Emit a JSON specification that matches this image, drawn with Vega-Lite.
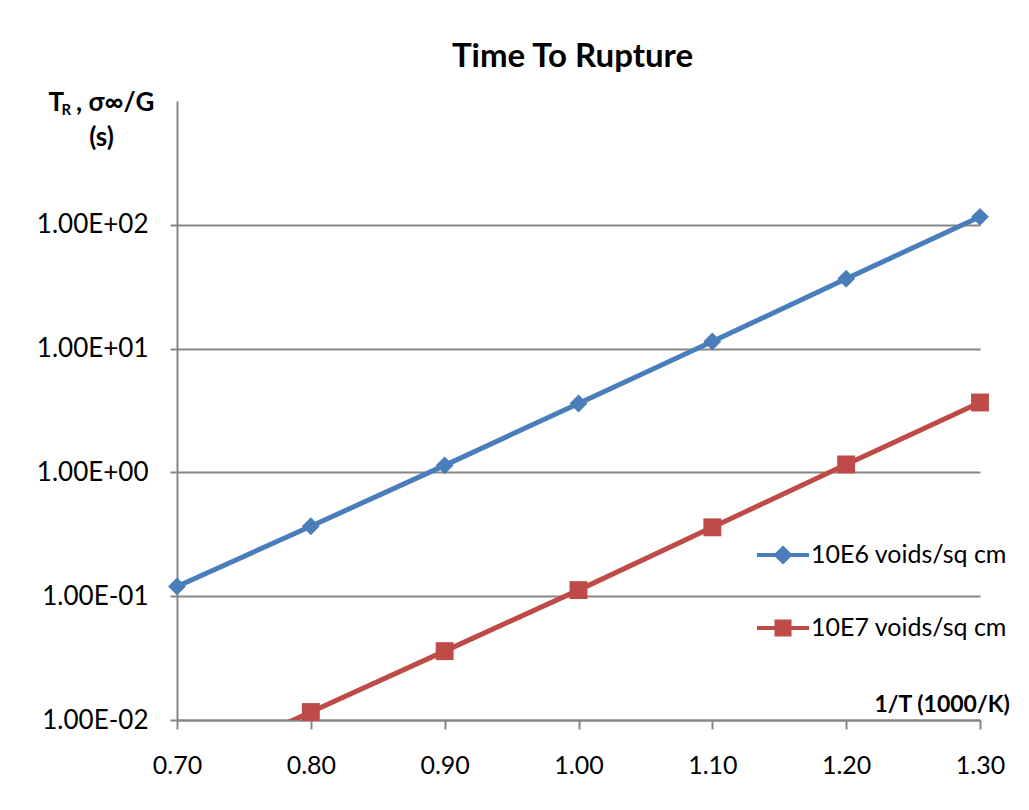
{
  "$schema": "https://vega.github.io/schema/vega-lite/v6.json",
  "autosize": "none",
  "width": 803,
  "height": 619,
  "padding": {"left": 177, "top": 101, "right": 49, "bottom": 90},
  "background": "white",
  "config": {
    "font": "Lato",
    "view": {"stroke": null},
    "axis": {"labelFont": "Lato", "titleFont": "Lato", "labelColor": "black", "titleColor": "black"}
  },
  "title": {
    "text": "Time To Rupture",
    "font": "Lato",
    "fontSize": 33,
    "fontWeight": "bold",
    "color": "black",
    "anchor": "middle",
    "frame": "group",
    "dx": -6,
    "offset": 15
  },
  "data": {
    "values": [
      {"x": 0.7, "y": 0.12, "series": "10E6 voids/sq cm"},
      {"x": 0.8, "y": 0.367, "series": "10E6 voids/sq cm"},
      {"x": 0.9, "y": 1.14, "series": "10E6 voids/sq cm"},
      {"x": 1.0, "y": 3.6, "series": "10E6 voids/sq cm"},
      {"x": 1.1, "y": 11.4, "series": "10E6 voids/sq cm"},
      {"x": 1.2, "y": 36.7, "series": "10E6 voids/sq cm"},
      {"x": 1.3, "y": 116, "series": "10E6 voids/sq cm"},
      {"x": 0.7, "y": 0.0037, "series": "10E7 voids/sq cm"},
      {"x": 0.8, "y": 0.0116, "series": "10E7 voids/sq cm"},
      {"x": 0.9, "y": 0.036, "series": "10E7 voids/sq cm"},
      {"x": 1.0, "y": 0.112, "series": "10E7 voids/sq cm"},
      {"x": 1.1, "y": 0.36, "series": "10E7 voids/sq cm"},
      {"x": 1.2, "y": 1.16, "series": "10E7 voids/sq cm"},
      {"x": 1.3, "y": 3.67, "series": "10E7 voids/sq cm"}
    ]
  },
  "layer": [
    {
      "mark": {"type": "line", "strokeWidth": 5, "clip": true},
      "encoding": {
        "x": {
          "field": "x", "type": "quantitative",
          "scale": {"domain": [0.7, 1.3], "nice": false, "zero": false},
          "axis": {
            "values": [0.7, 0.8, 0.9, 1.0, 1.1, 1.2, 1.3],
            "format": ".2f",
            "grid": false,
            "domainColor": "#868686", "domainWidth": 2,
            "tickColor": "#868686", "tickWidth": 2, "tickSize": 9,
            "labelFontSize": 25, "labelPadding": 24, "labelFlush": false,
            "title": "1/T (1000/K)",
            "titleFontSize": 23, "titleFontWeight": "bold",
            "titleAlign": "left", "titleBaseline": "alphabetic",
            "titleX": 697, "titleY": -9, "titleAngle": 0
          }
        },
        "y": {
          "field": "y", "type": "quantitative",
          "scale": {"type": "log", "domain": [0.01, 1000], "nice": false},
          "axis": {
            "values": [0.01, 0.1, 1, 10, 100],
            "labelExpr": "'1.00E' + (log(datum.value)/LN10 > -0.5 ? '+' : '-') + '0' + abs(round(log(datum.value)/LN10))",
            "grid": true, "gridColor": "#868686", "gridWidth": 2,
            "domainColor": "#868686", "domainWidth": 2,
            "tickColor": "#868686", "tickWidth": 2, "tickSize": 7,
            "labelFontSize": 26, "labelPadding": 22,
            "title": ["T\u00a0\u00a0, σ∞/G", "(s)"],
            "titleFontSize": 26, "titleFontWeight": "bold",
            "titleAngle": 0, "titleAlign": "center", "titleBaseline": "alphabetic",
            "titleX": -76, "titleY": 9, "titleLineHeight": 35
          }
        },
        "color": {
          "field": "series", "type": "nominal",
          "scale": {"domain": ["10E6 voids/sq cm", "10E7 voids/sq cm"], "range": ["#4A7EBB", "#BE4B48"]},
          "legend": {
            "title": null,
            "orient": "none",
            "legendX": 578,
            "legendY": 426,
            "symbolSize": 2704,
            "symbolStrokeWidth": 4,
            "labelFontSize": 25,
            "labelFont": "Lato",
            "labelColor": "black",
            "labelLimit": 400,
            "labelOffset": 0,
            "rowPadding": 30,
            "encode": {
              "symbols": {
                "update": {
                  "shape": {"signal": "datum.value === '10E6 voids/sq cm' ? 'M-1,0H1M0,-0.26L0.26,0L0,0.26L-0.26,0Z' : 'M-1,0H1M-0.25,-0.25H0.25V0.25H-0.25Z'"},
                  "fill": {"signal": "datum.value === '10E6 voids/sq cm' ? '#4A7EBB' : '#BE4B48'"},
                  "stroke": {"signal": "datum.value === '10E6 voids/sq cm' ? '#4A7EBB' : '#BE4B48'"},
                  "strokeWidth": {"value": 4},
                  "opacity": {"value": 1}
                }
              }
            }
          }
        }
      }
    },
    {
      "transform": [{"filter": "datum.y >= 0.01"}],
      "mark": {"type": "point", "filled": true, "opacity": 1, "size": 320},
      "encoding": {
        "x": {"field": "x", "type": "quantitative"},
        "y": {
          "field": "y", "type": "quantitative",
          "scale": {"type": "log", "domain": [0.01, 1000], "nice": false},
          "axis": {
            "orient": "left",
            "domain": false, "ticks": false, "labels": false, "grid": false,
            "title": "R",
            "titleFontSize": 15, "titleFontWeight": "bold",
            "titleAngle": 0, "titleAlign": "left", "titleBaseline": "alphabetic",
            "titleX": -116, "titleY": 13
          }
        },
        "color": {"field": "series", "type": "nominal"},
        "shape": {
          "condition": {"test": "datum.series === '10E6 voids/sq cm'", "value": "diamond"},
          "value": "square"
        }
      }
    }
  ],
  "resolve": {"scale": {"y": "independent"}}
}
